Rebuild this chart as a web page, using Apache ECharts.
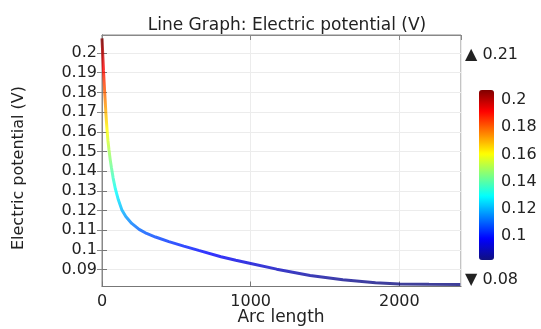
<!DOCTYPE html>
<html>
<head>
<meta charset="utf-8">
<script src="https://cdn.jsdelivr.net/npm/echarts@6/dist/echarts.min.js"></script>
<style>
  html, body { margin: 0; padding: 0; background: #fff; }
  #chart { width: 541px; height: 329px; }
</style>
</head>
<body>
<div id="chart"></div>
<script>
// ---- data ----
var arcLength = [0, 3, 6, 10, 14, 18, 22, 26, 30, 35, 40, 47, 55, 63, 75, 90, 110, 133, 160, 200, 250, 300, 360, 450, 550, 650, 800, 900, 1000, 1175, 1400, 1620, 1840, 2000, 2200, 2410];
var potential = [0.2074, 0.2025, 0.1975, 0.191, 0.1855, 0.180, 0.175, 0.1695, 0.165, 0.160, 0.1555, 0.1508, 0.146, 0.142, 0.1365, 0.131, 0.1255, 0.1205, 0.117, 0.1135, 0.1105, 0.1084, 0.1066, 0.1043, 0.102, 0.0998, 0.0966, 0.0948, 0.0932, 0.0903, 0.0871, 0.0849, 0.0834, 0.0828, 0.0826, 0.0825];
var yTicks = [0.09, 0.1, 0.11, 0.12, 0.13, 0.14, 0.15, 0.16, 0.17, 0.18, 0.19, 0.2];
var colorbarTicks = [0.1, 0.12, 0.14, 0.16, 0.18, 0.2];
var colorMin = 0.0825, colorMax = 0.2074;
var maxLabel = '\u25B2 0.21', minLabel = '\u25BC 0.08';
var titleText = 'Line Graph: Electric potential (V)';
var xName = 'Arc length', yName = 'Electric potential (V)';

var jet = ['#10107f', '#0000ff', '#007fff', '#00ffff', '#7fff7f', '#ffff00', '#ff7f00', '#ff0000', '#7f0000'];
var FONT = 'DejaVu Sans';
var fmt = function (v) { return String(parseFloat(Number(v).toFixed(3))); };
var fmtX = function (v) { return String(Math.round(v)); };

var chart = echarts.init(document.getElementById('chart'), null, { renderer: 'canvas' });
var data = arcLength.map(function (x, i) { return [x, potential[i]]; });

chart.setOption({
  animation: false,
  backgroundColor: '#fff',
  textStyle: { fontFamily: FONT },
  title: {
    text: titleText, left: 282, top: 12, textAlign: 'center',
    textStyle: { fontFamily: FONT, fontSize: 17, fontWeight: 'normal', color: '#222' }
  },
  grid: [
    { left: 102, right: 80, top: 35, bottom: 42.5, show: true, borderColor: '#888', borderWidth: 1,
      containLabel: false, outerBoundsMode: 'none' },
    { left: 479, top: 90, width: 15, height: 170, show: false, containLabel: false, outerBoundsMode: 'none' }
  ],
  xAxis: [
    { type: 'value', gridIndex: 0, min: 0, max: 2415, interval: 1000,
      axisLine: { show: true, lineStyle: { color: '#777' } },
      axisTick: { show: true, inside: true, length: 5, lineStyle: { color: '#777' } },
      axisLabel: { fontFamily: FONT, fontSize: 16, color: '#222', margin: 7, showMaxLabel: false, formatter: fmtX },
      splitLine: { show: true, lineStyle: { color: '#ececec' } } },
    { type: 'value', gridIndex: 0, position: 'top', min: 0, max: 2415, interval: 1000,
      axisLine: { show: true, lineStyle: { color: '#888' } },
      axisTick: { show: true, inside: true, length: 5, lineStyle: { color: '#888' } },
      axisLabel: { show: false }, splitLine: { show: false } },
    { type: 'value', gridIndex: 1, show: false, min: 0, max: 1 }
  ],
  yAxis: [
    { type: 'value', gridIndex: 0, min: 0.0815, max: 0.2091,
      axisLine: { show: true, lineStyle: { color: '#777' } },
      axisTick: { show: true, inside: true, length: 5, customValues: yTicks, lineStyle: { color: '#777' } },
      axisLabel: { fontFamily: FONT, fontSize: 16, color: '#222', margin: 5, customValues: yTicks, formatter: fmt },
      splitLine: { show: true, lineStyle: { color: '#ececec' } } },
    { type: 'value', gridIndex: 0, position: 'right', min: 0.0815, max: 0.2091,
      axisLine: { show: true, lineStyle: { color: '#888' } },
      axisTick: { show: true, inside: true, length: 5, customValues: yTicks, lineStyle: { color: '#888' } },
      axisLabel: { show: false, customValues: yTicks }, splitLine: { show: false } },
    { type: 'value', gridIndex: 1, position: 'right', min: colorMin, max: colorMax,
      axisLine: { show: false }, axisTick: { show: false }, splitLine: { show: false },
      axisLabel: { fontFamily: FONT, fontSize: 16, color: '#222', margin: 7, customValues: colorbarTicks, formatter: fmt } }
  ],
  visualMap: {
    type: 'continuous', show: true, seriesIndex: 0, dimension: 1,
    min: colorMin, max: colorMax, calculable: false, hoverLink: false,
    left: 479, top: 90, itemWidth: 15, itemHeight: 170, padding: 0, text: null,
    inRange: { color: jet }
  },
  graphic: [
    { type: 'text', left: 465, top: 47, style: { text: maxLabel, fontFamily: FONT, fontSize: 16, fill: '#222' } },
    { type: 'text', left: 465, top: 272, style: { text: minLabel, fontFamily: FONT, fontSize: 16, fill: '#222' } },
    { type: 'text', x: 19, y: 168, rotation: Math.PI / 2,
      style: { text: yName, fontFamily: FONT, fontSize: 16, fill: '#222', align: 'center', verticalAlign: 'middle' } },
    { type: 'text', x: 281, y: 318,
      style: { text: xName, fontFamily: FONT, fontSize: 17, fill: '#222', align: 'center', verticalAlign: 'middle' } }
  ],
  series: [
    { type: 'line', xAxisIndex: 0, yAxisIndex: 0, data: data, showSymbol: false,
      smooth: false, lineStyle: { width: 3, opacity: 0.8 } }
  ]
});
</script>
</body>
</html>
